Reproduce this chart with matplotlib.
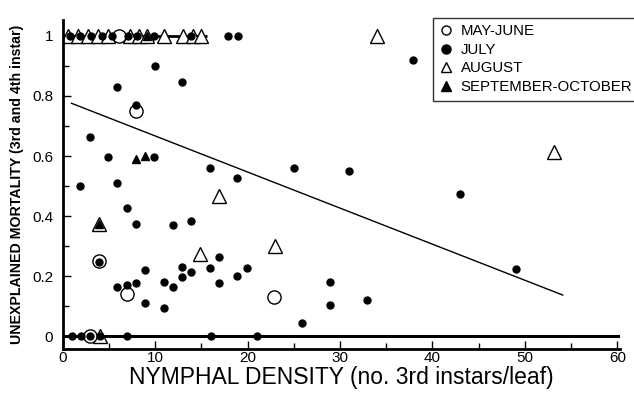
import matplotlib
matplotlib.use("Agg")
import matplotlib.pyplot as plt
from matplotlib.lines import Line2D
from matplotlib.ticker import MultipleLocator, FuncFormatter

plt.rcParams['font.family'] = ['Liberation Sans', 'DejaVu Sans']

# ---- data ----
may_june_x = [6.1, 7.9, 3.9, 6.9, 22.9, 2.9]
may_june_y = [1.0, 0.75, 0.25, 0.14, 0.13, 0.0]

july_x = [0.8, 1.9, 3.1, 4.2, 5.3, 7.1, 8.0, 9.9, 13.9, 17.9, 19.0,
          10.0, 5.9, 12.9, 7.9, 2.9, 4.9, 9.9, 15.9, 18.9, 1.9, 5.9, 6.9,
          7.9, 11.9, 13.9, 3.9, 16.9, 12.9, 8.9, 15.9, 13.9, 12.9, 19.9,
          18.9, 5.9, 6.9, 7.9, 10.9, 11.9, 16.9, 8.9, 10.9, 25.0, 31.0,
          28.9, 28.9, 32.9, 43.0, 49.0, 37.9, 25.9,
          1.0, 2.0, 3.0, 4.0, 7.0, 16.0, 21.0]
july_y = [1.0, 1.0, 1.0, 1.0, 1.0, 1.0, 1.0, 1.0, 1.0, 1.0, 1.0,
          0.90, 0.83, 0.845, 0.77, 0.664, 0.598, 0.598, 0.561, 0.526, 0.50,
          0.511, 0.428, 0.374, 0.369, 0.384, 0.248, 0.263, 0.229, 0.22,
          0.228, 0.212, 0.196, 0.226, 0.20, 0.164, 0.169, 0.178, 0.181,
          0.164, 0.176, 0.111, 0.092, 0.559, 0.551, 0.181, 0.102, 0.12,
          0.472, 0.223, 0.92, 0.045,
          0.0, 0.0, 0.0, 0.0, 0.0, 0.0, 0.0]

august_x = [0.6, 1.7, 2.7, 3.8, 4.9, 7.3, 8.3, 9.1, 11.0, 13.0, 14.1, 15.0,
            34.0, 3.9, 16.9, 14.9, 23.0, 53.1, 4.0]
august_y = [1.0, 1.0, 1.0, 1.0, 1.0, 1.0, 1.0, 1.0, 1.0, 1.0, 1.0, 1.0,
            1.0, 0.373, 0.467, 0.272, 0.30, 0.614, 0.0]

sep_oct_x = [7.9, 8.9, 3.9, 9.1]
sep_oct_y = [0.59, 0.60, 0.373, 1.0]

# regression line
fit_intercept = 0.787
fit_slope = -0.01202
fit_x_range = [0.94, 54.1]

# reference lines at total mortality levels
ref_zero_range = [0, 60.3]
ref_one_range = [0, 15.6]

x_ticks = [0, 10, 20, 30, 40, 50, 60]
y_ticks = [0, 0.2, 0.4, 0.6, 0.8, 1.0]

# ---- figure ----
fig = plt.figure(figsize=(6.34, 3.93), dpi=100)
ax = fig.add_axes([0.099, 0.112, 0.879, 0.837])

ax.plot(ref_zero_range, [0, 0], color='black', lw=2.2, zorder=1, solid_capstyle='butt')
ax.plot(ref_one_range, [1, 1], color='black', lw=2.0, zorder=1, solid_capstyle='butt')

fx = fit_x_range
fy = [fit_intercept + fit_slope * v for v in fx]
ax.plot(fx, fy, color='black', lw=1.0, zorder=1)

ax.plot(august_x, august_y, ls='none', marker='^', ms=10.5, mfc='white',
        mec='black', mew=1.0, zorder=2)
ax.plot(may_june_x, may_june_y, ls='none', marker='o', ms=9.5, mfc='white',
        mec='black', mew=1.0, zorder=3)
ax.plot(july_x, july_y, ls='none', marker='o', ms=5, mfc='black',
        mec='black', zorder=4)
ax.plot(sep_oct_x, sep_oct_y, ls='none', marker='^', ms=6, mfc='black',
        mec='black', zorder=4)

ax.set_xlim(0, 60.3)
ax.set_ylim(-0.043, 1.053)
ax.spines['top'].set_visible(False)
ax.spines['right'].set_visible(False)
ax.spines['left'].set_linewidth(2.0)
ax.spines['bottom'].set_linewidth(2.0)

ax.set_xticks(x_ticks)
ax.xaxis.set_minor_locator(MultipleLocator(5))
ax.set_yticks(y_ticks)
ax.yaxis.set_minor_locator(MultipleLocator(0.1))
ax.yaxis.set_major_formatter(FuncFormatter(lambda v, p: '%g' % v))
ax.tick_params(axis='both', which='major', direction='in', length=6, width=1,
               labelsize=11)
ax.tick_params(axis='x', which='major', pad=1.5)
ax.tick_params(axis='y', which='major', pad=7)
ax.tick_params(axis='both', which='minor', direction='in', length=4, width=1)

ax.set_xlabel('NYMPHAL DENSITY (no. 3rd instars/leaf)', fontsize=16.5, labelpad=1)
ax.set_ylabel('UNEXPLAINED MORTALITY (3rd and 4th instar)', fontsize=10.2,
              fontweight='bold', labelpad=6)

handles = [
    Line2D([], [], ls='none', marker='o', ms=6.5, mfc='white', mec='black', mew=1.0),
    Line2D([], [], ls='none', marker='o', ms=6.5, mfc='black', mec='black'),
    Line2D([], [], ls='none', marker='^', ms=7, mfc='white', mec='black', mew=1.0),
    Line2D([], [], ls='none', marker='^', ms=7, mfc='black', mec='black'),
]
labels = ['MAY-JUNE', 'JULY', 'AUGUST', 'SEPTEMBER-OCTOBER']
leg = ax.legend(handles, labels, loc='upper left', bbox_to_anchor=(0.683, 0.955),
                bbox_transform=fig.transFigure, fontsize=10.8, frameon=True,
                fancybox=False, edgecolor='black', handlelength=0.8,
                handletextpad=0.6, labelspacing=0.3, borderpad=0.45,
                borderaxespad=0)
leg.get_frame().set_linewidth(1.0)

fig.savefig('out.png', dpi=100)
